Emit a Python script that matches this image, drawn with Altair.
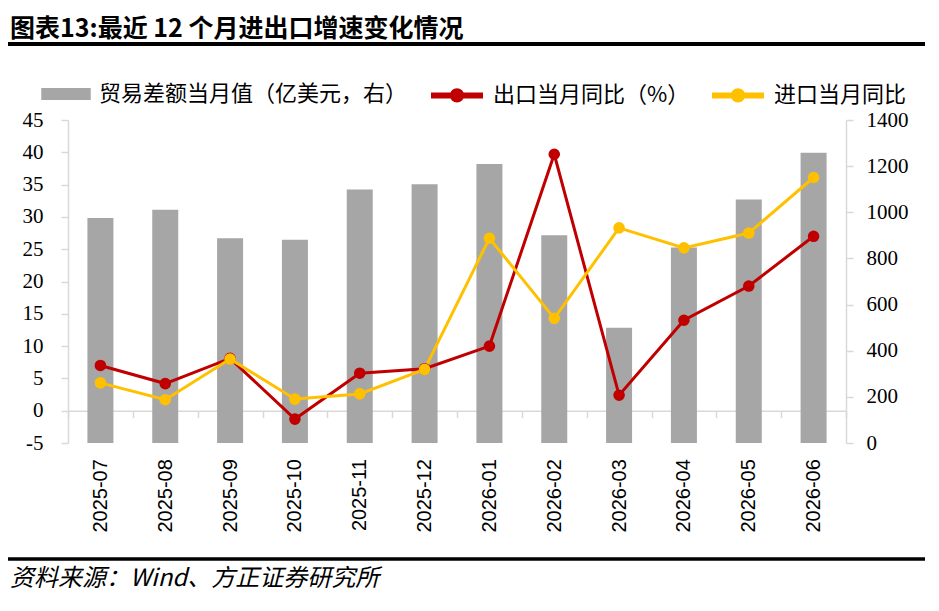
import altair as alt
import pandas as pd

# ---- data ----
months = ["2025-07", "2025-08", "2025-09", "2025-10", "2025-11", "2025-12",
          "2026-01", "2026-02", "2026-03", "2026-04", "2026-05", "2026-06"]
trade_balance = [975, 1011, 888, 881, 1099, 1121, 1209, 900, 500, 847, 1055, 1258]
export_yoy = [7.0, 4.2, 8.1, -1.3, 5.8, 6.5, 10.0, 39.7, 2.4, 14.0, 19.3, 27.0]
import_yoy = [4.3, 1.7, 8.0, 1.8, 2.6, 6.4, 26.7, 14.3, 28.3, 25.2, 27.5, 36.1]

bar_label = "贸易差额当月值（亿美元，右）"
exp_label = "出口当月同比（%）"
imp_label = "进口当月同比"
title_text = "图表13:最近 12 个月进出口增速变化情况"
source_text = "资料来源：Wind、方正证券研究所"
left_ticks = [-5, 0, 5, 10, 15, 20, 25, 30, 35, 40, 45]
right_ticks = [0, 200, 400, 600, 800, 1000, 1200, 1400]

bar_df = pd.DataFrame({"month": months, "trade": trade_balance, "s": [bar_label] * len(months)})
line_df = pd.DataFrame({
    "month": months + months,
    "value": export_yoy + import_yoy,
    "series": [exp_label] * len(months) + [imp_label] * len(months),
})

W, H = 778, 323
GRID = "#d9d9d9"
CJK = "Noto Sans CJK SC"
SERIF = "'Liberation Serif', 'Times New Roman', serif"
SANS = "'Liberation Sans', Arial, sans-serif"

x_enc = alt.X(
    "month:N", sort=months,
    scale=alt.Scale(paddingInner=0, paddingOuter=0),
    axis=alt.Axis(
        title=None, offset=-H * 5 / 50, grid=False,
        domain=True, domainColor=GRID, domainWidth=1.5,
        ticks=True, tickBand="extent", tickColor=GRID, tickSize=7, tickWidth=1.5,
        labelAngle=-90, labelFont=SANS, labelFontSize=20,
        labelColor="black", labelPadding=41, labelOverlap=False,
    ),
)

bars = alt.Chart(bar_df).mark_bar(size=26).encode(
    x=x_enc,
    y=alt.Y(
        "trade:Q",
        scale=alt.Scale(domain=[0, 1400], nice=False),
        axis=alt.Axis(
            orient="right", values=right_ticks, title=None, grid=False,
            domainColor=GRID, domainWidth=1.5, tickColor=GRID, tickSize=7, tickWidth=1.5,
            labelFont=SERIF, labelFontSize=21, labelColor="black",
            labelPadding=13, labelExpr="'' + datum.value",
        ),
    ),
    color=alt.Color(
        "s:N",
        scale=alt.Scale(domain=[bar_label], range=["#a6a6a6"]),
        legend=alt.Legend(
            orient="none", legendX=-27, legendY=-51, title=None,
            symbolType="M-1,-0.24H1V0.24H-1Z", symbolSize=2450, symbolStrokeWidth=0,
            labelFont=CJK, labelFontSize=22, labelOffset=8, labelLimit=800,
            labelColor="black",
        ),
    ),
)

line_symbol = ("M-1,0H1"
               "M0.16,0A0.16,0.16 0 1 1 -0.16,0A0.16,0.16 0 1 1 0.16,0"
               "M0.06,0A0.06,0.06 0 1 1 -0.06,0A0.06,0.06 0 1 1 0.06,0")

lines = alt.Chart(line_df).mark_line(
    strokeWidth=3, point=alt.OverlayMarkDef(filled=True, size=135, opacity=1)
).encode(
    x=x_enc,
    y=alt.Y(
        "value:Q",
        scale=alt.Scale(domain=[-5, 45], nice=False, zero=False),
        axis=alt.Axis(
            orient="left", values=left_ticks, title=None, grid=False,
            domainColor=GRID, domainWidth=1.5, tickColor=GRID, tickSize=7, tickWidth=1.5,
            labelFont=SERIF, labelFontSize=21, labelColor="black",
            labelPadding=18, labelExpr="'' + datum.value",
        ),
    ),
    color=alt.Color(
        "series:N",
        sort=[exp_label, imp_label],
        scale=alt.Scale(domain=[exp_label, imp_label], range=["#c00000", "#ffc000"]),
        legend=alt.Legend(
            orient="none", legendX=360, legendY=-54, direction="horizontal", title=None,
            symbolType=line_symbol, symbolSize=2704, symbolStrokeWidth=6,
            labelFont=CJK, labelFontSize=22, labelOffset=7, labelLimit=800,
            columnPadding=10, labelColor="black",
        ),
    ),
)

one = pd.DataFrame({"t": [title_text], "src": [source_text]})

top_rule = alt.Chart(one).mark_rule(color="black", strokeWidth=4).encode(
    x=alt.value(-60), x2=alt.value(857), y=alt.value(-76)
)
bottom_rule = alt.Chart(one).mark_rule(color="black", strokeWidth=3.5).encode(
    x=alt.value(-60), x2=alt.value(857), y=alt.value(439)
)
title = alt.Chart(one).mark_text(
    align="left", baseline="middle", font=CJK, fontSize=25, fontWeight="bold", color="black"
).encode(x=alt.value(-58), y=alt.value(-91), text="t:N")
source = alt.Chart(one).mark_text(
    align="left", baseline="middle", font=CJK, fontSize=24, fontStyle="italic", color="black"
).encode(x=alt.value(-58), y=alt.value(459), text="src:N")

chart = alt.layer(bars, lines, top_rule, bottom_rule, title, source).resolve_scale(
    y="independent", color="independent"
).properties(
    width=W, height=H, autosize="none",
    padding={"left": 60, "top": 112, "right": 85, "bottom": 160},
).configure_view(stroke=None)

chart.save("out.html", embed_options={"renderer": "svg", "actions": False})
